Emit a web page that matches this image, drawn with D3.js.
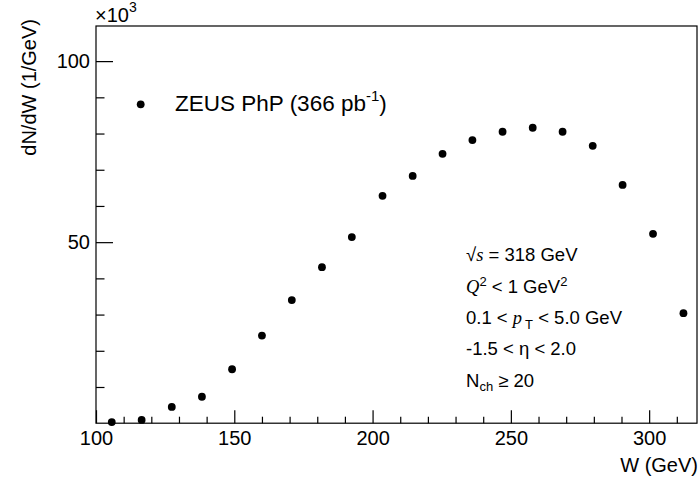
<!DOCTYPE html>
<html>
<head>
<meta charset="utf-8">
<script src="https://cdn.jsdelivr.net/npm/d3@7"></script>
<style>
  body { margin: 0; background: #fff; }
  text { font-family: "Liberation Sans", Arial, Helvetica, sans-serif; fill: #000; }
  .it { font-family: "Liberation Serif", "Times New Roman", serif; font-style: italic; }
</style>
</head>
<body>
<div id="chart"></div>
<script>
// W bin centres (GeV) and dN/dW (x10^3 per GeV)
const wCenters = [105.7, 116.5, 127.4, 138.3, 149.2, 160.0, 170.8, 181.7, 192.5, 203.6,
                  214.5, 225.3, 236.1, 247.0, 257.9, 268.7, 279.6, 290.4, 301.4, 312.4];
const dndw = [0.3, 0.9, 4.5, 7.3, 14.9, 24.2, 34.0, 43.1, 51.4, 62.8,
              68.3, 74.4, 78.2, 80.5, 81.6, 80.5, 76.6, 65.8, 52.3, 30.4];

const xMajor = [100, 150, 200, 250, 300];
const xMinor = [110, 120, 130, 140, 160, 170, 180, 190, 210, 220, 230, 240, 260, 270, 280, 290, 310];
const yMajor = [50, 100];
const yMinor = [10, 20, 30, 40, 60, 70, 80, 90];

const W = 699, H = 482;
const frame = { left: 96, right: 697, top: 26, bottom: 423.2 };

const svg = d3.select("#chart").append("svg")
    .attr("width", W)
    .attr("height", H);

const x = d3.scaleLinear().domain([100, 317.3]).range([frame.left, frame.right]);
const y = d3.scaleLinear().domain([0, 109.7]).range([frame.bottom, frame.top]);

// frame
svg.append("rect")
   .attr("x", frame.left).attr("y", frame.top)
   .attr("width", frame.right - frame.left)
   .attr("height", frame.bottom - frame.top)
   .attr("fill", "none")
   .attr("stroke", "#000")
   .attr("stroke-width", 1.2);

// x axis (ticks pointing inward)
const gx = svg.append("g").attr("transform", `translate(0,${frame.bottom})`);
gx.call(d3.axisBottom(x).tickValues(xMajor).tickSize(-13).tickPadding(8).tickFormat(d3.format("d")));
const gxm = svg.append("g").attr("transform", `translate(0,${frame.bottom})`);
gxm.call(d3.axisBottom(x).tickValues(xMinor).tickSize(-6.5).tickFormat(""));

// y axis
const gy = svg.append("g").attr("transform", `translate(${frame.left},0)`);
gy.call(d3.axisLeft(y).tickValues(yMajor).tickSize(-17).tickPadding(6).tickFormat(d3.format("d")));
const gym = svg.append("g").attr("transform", `translate(${frame.left},0)`);
gym.call(d3.axisLeft(y).tickValues(yMinor).tickSize(-8.5).tickFormat(""));

svg.selectAll(".domain").remove();
svg.selectAll(".tick line").attr("stroke", "#000").attr("stroke-width", 1.2);
svg.selectAll(".tick text")
   .style("font-family", "'Liberation Sans', Arial, sans-serif")
   .style("font-size", "20px")
   .attr("fill", "#000");

// exponent label
const expo = svg.append("text").attr("x", 95).attr("y", 22).style("font-size", "20px");
expo.append("tspan").text("\u00d710");
expo.append("tspan").attr("dy", -10).style("font-size", "14px").text("3");

// axis titles
svg.append("text")
   .attr("text-anchor", "end")
   .attr("x", frame.right + 1)
   .attr("y", 472)
   .style("font-size", "20px")
   .text("W (GeV)");

svg.append("text")
   .attr("text-anchor", "end")
   .attr("transform", "rotate(-90)")
   .attr("x", -19)
   .attr("y", 36)
   .style("font-size", "20px")
   .text("dN/dW (1/GeV)");

// data points
svg.selectAll("circle.pt")
   .data(wCenters.map((w, i) => ({ w: w, v: dndw[i] })))
   .enter()
   .append("circle")
   .attr("class", "pt")
   .attr("cx", d => x(d.w))
   .attr("cy", d => y(d.v))
   .attr("r", 3.9)
   .attr("fill", "#000");

// legend
svg.append("circle").attr("cx", 140.7).attr("cy", 104.3).attr("r", 3.9).attr("fill", "#000");
const leg = svg.append("text").attr("x", 175).attr("y", 111).style("font-size", "22.5px");
leg.append("tspan").text("ZEUS PhP (366 pb");
leg.append("tspan").attr("dy", -10).style("font-size", "15px").text("-1");
leg.append("tspan").attr("dy", 10).text(")");

// annotation lines
const ax = 466, fs = 18.5;
const l1 = svg.append("text").attr("x", ax).attr("y", 260.5).style("font-size", fs + "px");
l1.append("tspan").text("\u221a");
l1.append("tspan").attr("class", "it").text("s");
l1.append("tspan").text(" = 318 GeV");

const l2 = svg.append("text").attr("x", ax).attr("y", 292.5).style("font-size", fs + "px");
l2.append("tspan").attr("class", "it").text("Q");
l2.append("tspan").attr("dy", -7).style("font-size", "13px").text("2");
l2.append("tspan").attr("dy", 7).text(" < 1 GeV");
l2.append("tspan").attr("dy", -7).style("font-size", "13px").text("2");

const l3 = svg.append("text").attr("x", ax).attr("y", 323.5).style("font-size", fs + "px");
l3.append("tspan").text("0.1 < ");
l3.append("tspan").attr("class", "it").text("p");
l3.append("tspan").attr("dx", 3).attr("dy", 5).style("font-size", "13px").text("T");
l3.append("tspan").attr("dy", -5).text(" < 5.0 GeV");

svg.append("text").attr("x", ax).attr("y", 355).style("font-size", fs + "px")
   .text("-1.5 < \u03b7 < 2.0");

const l5 = svg.append("text").attr("x", ax).attr("y", 386.5).style("font-size", fs + "px");
l5.append("tspan").text("N");
l5.append("tspan").attr("dy", 4).style("font-size", "13px").text("ch");
l5.append("tspan").attr("dy", -4).text(" \u2265 20");
</script>
</body>
</html>
